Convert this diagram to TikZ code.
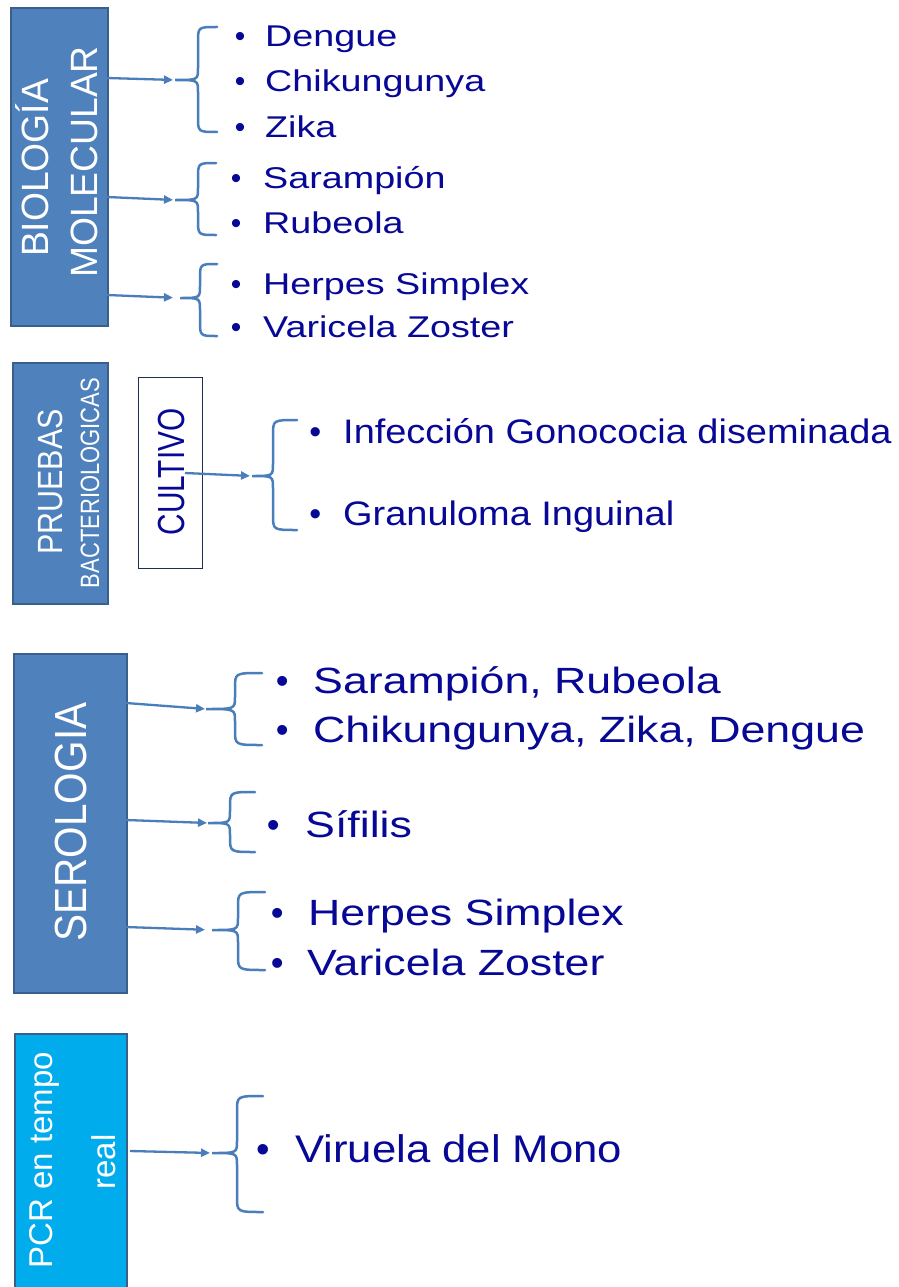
\documentclass[tikz,border=0pt]{standalone}
\usepackage{fontspec}
\setmainfont{Liberation Sans}
\usetikzlibrary{arrows.meta}
\definecolor{boxfill}{HTML}{4F81BD}
\definecolor{boxline}{HTML}{3A5F8B}
\definecolor{pcrfill}{HTML}{00ACEC}
\definecolor{conn}{HTML}{4A7EBB}
\definecolor{txt}{RGB}{8,8,150}
\definecolor{culline}{HTML}{1F2D50}
% item: size, hscale, gap, text
\newcommand{\itm}[4]{\fontsize{#1}{#1}\selectfont\makebox[0pt]{•}\hspace*{#3pt}\scalebox{#2}[1]{#4}}
\newcommand{\iA}[2]{\itm{30}{1.257}{#1}{#2}}
\newcommand{\iB}[2]{\itm{34}{1.116}{#1}{#2}}
\newcommand{\iC}[2]{\itm{36.5}{1.225}{#1}{#2}}
\newcommand{\iD}[2]{\itm{38.5}{1.135}{#1}{#2}}
% vertical label: size, hscale, text
\newcommand{\vl}[3]{\fontsize{#1}{#1}\selectfont\scalebox{#2}[1]{#3}}
% brace: name, xt, xv, xe, yt, ym, yb
\newcommand{\brc}[7]{%
  \coordinate (#1) at (#2,#6);
  \draw[brace] (#4,#5) .. controls (#3,#5) .. (#3,{#5+15}) -- (#3,{#6-12})
    .. controls (#3,#6) .. (#1) .. controls (#3,#6) .. (#3,{#6+12})
    -- (#3,{#7-15}) .. controls (#3,#7) .. (#4,#7);}
\begin{document}
\begin{tikzpicture}[x=1pt,y=-1pt,
  box/.style={draw=boxline, line width=1.6pt, fill=boxfill, inner sep=0pt, anchor=north west},
  vlabel/.style={text=white, rotate=90, anchor=base, inner sep=0pt},
  item/.style={text=txt, anchor=base west, inner sep=0pt},
  brace/.style={draw=conn, line width=2.5pt, line cap=round},
  arr/.style={draw=conn, line width=2.3pt, -{Triangle[length=9pt,width=8pt]}}]
\useasboundingbox (0,0) rectangle (899,1287);
\clip (0,0) rectangle (899,1287);
\fill[white] (0,0) rectangle (899,1287);

% ---- boxes
\node[box, minimum width=97pt, minimum height=318pt] (bio) at (10,7) {};
\node[box, minimum width=95pt, minimum height=241pt] (pru) at (12,362) {};
\node[box, fill=white, draw=culline, line width=1.3pt, minimum width=64pt, minimum height=191pt] (cul) at (138,377) {};
\node[box, minimum width=113pt, minimum height=339pt] (ser) at (13,653) {};
\node[box, fill=pcrfill, minimum width=112pt, minimum height=280pt] (pcr) at (14,1033) {};

% ---- box labels
\node[vlabel] (bioA) at (48,168) {\vl{38}{0.98}{BIOLOGÍA}};
\node[vlabel] (bioB) at (97,162) {\vl{38}{0.98}{MOLECULAR}};
\node[vlabel] (pruA) at (62,482) {\vl{35}{0.87}{PRUEBAS}};
\node[vlabel] (pruB) at (99,483) {\vl{26.5}{0.83}{BACTERIOLOGICAS}};
\node[vlabel, text=txt] (culA) at (184,472) {\vl{37.7}{0.79}{CULTIVO}};
\node[vlabel] (serA) at (86,822) {\vl{45}{0.9}{SEROLOGIA}};
\node[vlabel] (pcrA) at (52,1160) {\vl{33}{1.0}{PCR en tempo}};
\node[vlabel] (pcrB) at (115,1162) {\vl{33}{1.0}{real}};

% ---- braces
\brc{b1}{175}{198}{217}{27}{80}{132}
\brc{b2}{175}{198}{216}{163}{200}{235}
\brc{b3}{180}{200}{217}{264}{298}{336}
\brc{bp}{252}{273}{297}{420}{476}{530}
\brc{s1}{206}{235}{262}{673}{709}{745}
\brc{s2}{208}{230}{255}{792}{823}{852}
\brc{s3}{212}{238}{265}{892}{930}{970}
\brc{p1}{212}{237}{263}{1096}{1153}{1212}

% ---- connector starts
\coordinate (a1) at (107,78);
\coordinate (a2) at (107,197);
\coordinate (a3) at (107,295);
\coordinate (ap) at (185,473);
\coordinate (c1) at (126,703);
\coordinate (c2) at (126,820);
\coordinate (c3) at (126,927);
\coordinate (cp) at (130,1151);

\draw[arr, shorten >=2pt] (a1) -- (b1);
\draw[arr, shorten >=2pt] (a2) -- (b2);
\draw[arr, shorten >=7pt] (a3) -- (b3);
\draw[arr, shorten >=2pt] (ap) -- (bp);
\draw[arr, shorten >=1pt] (c1) -- (s1);
\draw[arr, shorten >=1pt] (c2) -- (s2);
\draw[arr, shorten >=7pt] (c3) -- (s3);
\draw[arr, shorten >=2pt] (cp) -- (p1);

% ---- items
\node[item] (t1) at (240,47) {\iA{25}{Dengue}};
\node[item] (t2) at (240,92) {\iA{25}{Chikungunya}};
\node[item] (t3) at (240,138) {\iA{25}{Zika}};
\node[item] (t4) at (236,188) {\iA{27}{Sarampión}};
\node[item] (t5) at (236,233) {\iA{27}{Rubeola}};
\node[item] (t6) at (236,294) {\iA{27}{Herpes Simplex}};
\node[item] (t7) at (236,337) {\iA{27}{Varicela Zoster}};

\node[item] (u1) at (315,443) {\iB{28}{Infección Gonococia diseminada}};
\node[item] (u2) at (315,525) {\iB{28}{Granuloma Inguinal}};

\node[item] (v1) at (282,693) {\iC{31}{Sarampión, Rubeola}};
\node[item] (v2) at (282,742) {\iC{31}{Chikungunya, Zika, Dengue}};
\node[item] (v3) at (273,837) {\iC{32}{Sífilis}};
\node[item] (v4) at (277,925) {\iC{31}{Herpes Simplex}};
\node[item] (v5) at (277,975) {\iC{30}{Varicela Zoster}};

\node[item] (w1) at (263,1162) {\iD{32}{Viruela del Mono}};
\end{tikzpicture}
\end{document}
